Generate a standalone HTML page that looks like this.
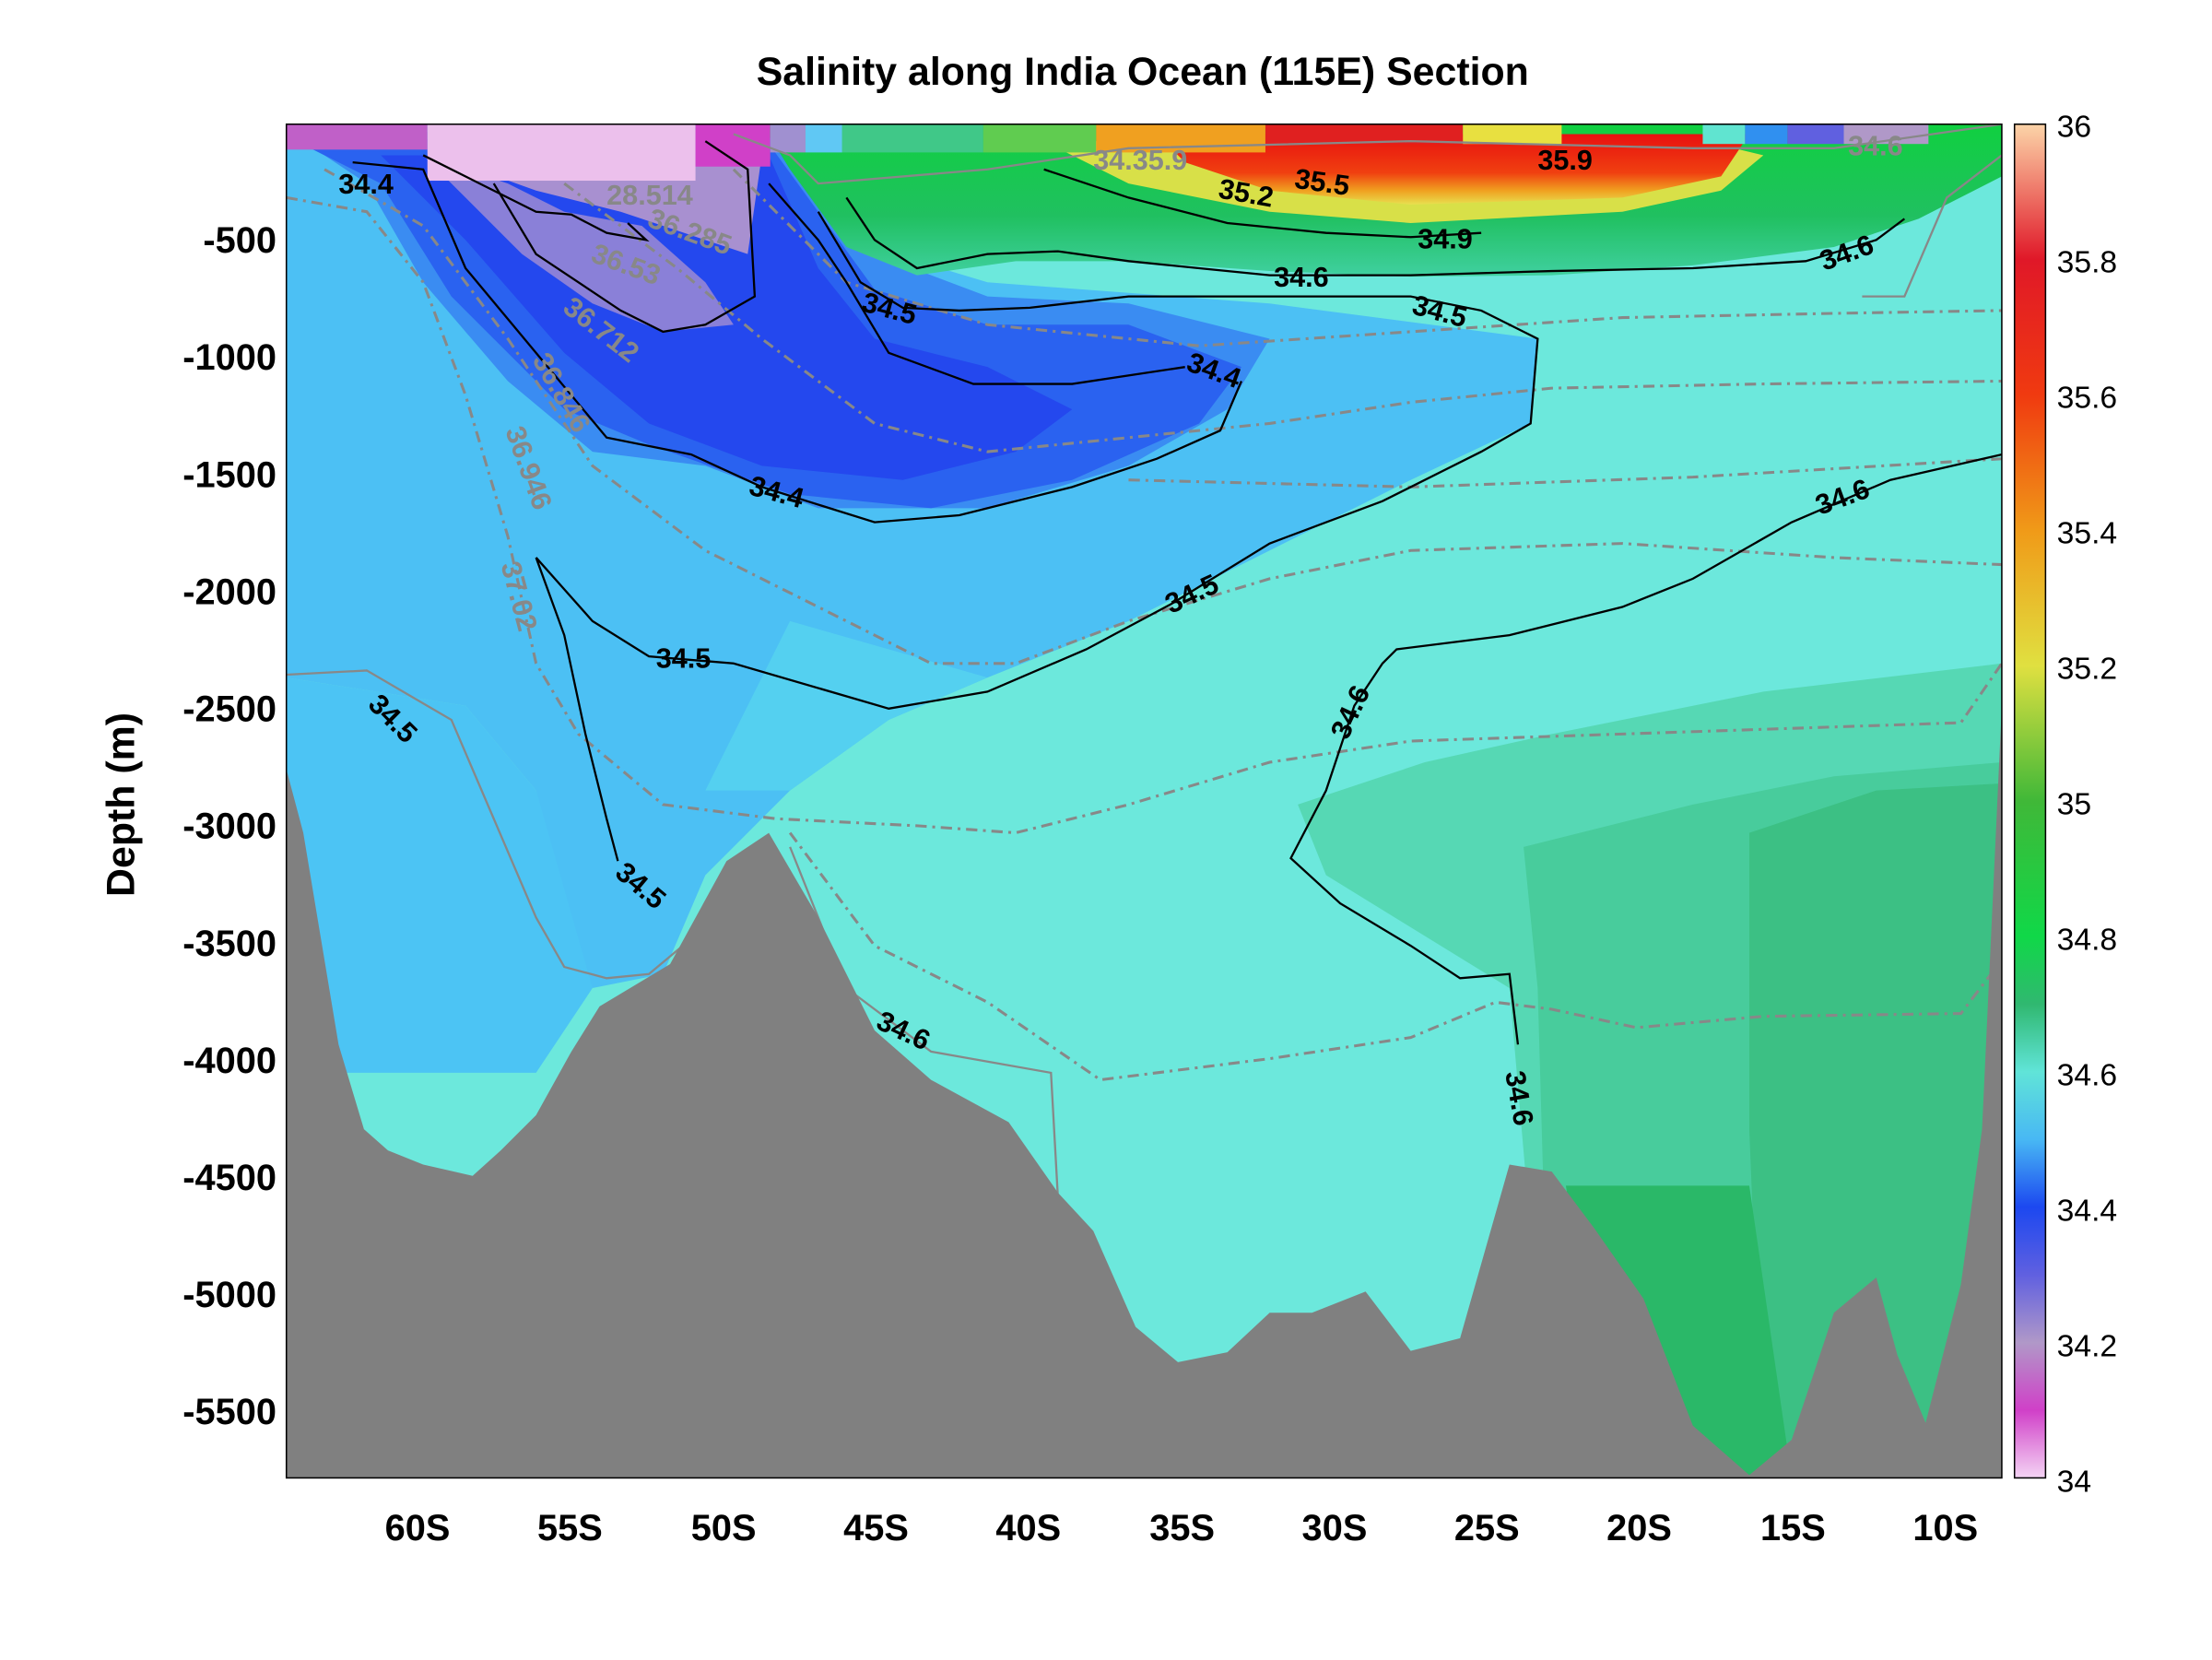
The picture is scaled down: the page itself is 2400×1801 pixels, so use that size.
<!DOCTYPE html>
<html><head><meta charset="utf-8"><style>
html,body{margin:0;padding:0;background:#fff}
svg{display:block}
text{font-family:"Liberation Sans",sans-serif}
</style></head><body>
<svg width="2400" height="1801" viewBox="0 0 1568 1176" preserveAspectRatio="none" xmlns="http://www.w3.org/2000/svg">
<defs>
<linearGradient id="cb" x1="0" y1="0" x2="0" y2="1">
<stop offset="0" stop-color="#fcd4a8"/>
<stop offset="0.1" stop-color="#e01828"/>
<stop offset="0.2" stop-color="#f03a10"/>
<stop offset="0.3" stop-color="#f09a18"/>
<stop offset="0.4" stop-color="#e0e040"/>
<stop offset="0.5" stop-color="#40b838"/>
<stop offset="0.6" stop-color="#10d848"/>
<stop offset="0.65" stop-color="#30b870"/>
<stop offset="0.7" stop-color="#60e4d8"/>
<stop offset="0.75" stop-color="#48b8f4"/>
<stop offset="0.8" stop-color="#1c48f0"/>
<stop offset="0.85" stop-color="#6060e0"/>
<stop offset="0.9" stop-color="#b098c8"/>
<stop offset="0.95" stop-color="#d040c8"/>
<stop offset="1" stop-color="#f4d4f4"/>
</linearGradient>
<linearGradient id="red" x1="0" y1="0" x2="0" y2="1">
<stop offset="0" stop-color="#e81010"/><stop offset="0.55" stop-color="#f04010"/><stop offset="0.8" stop-color="#f0a020"/><stop offset="1" stop-color="#e8e050"/>
</linearGradient>
<linearGradient id="grn" x1="0" y1="0" x2="0" y2="1">
<stop offset="0" stop-color="#10d040"/><stop offset="0.6" stop-color="#20c060"/><stop offset="1" stop-color="#40d0a0"/>
</linearGradient>
<clipPath id="pc"><rect x="203" y="88" width="1216" height="959"/></clipPath>
</defs>
<text x="810" y="60" text-anchor="middle" font-size="28" font-weight="bold" fill="#000">Salinity along India Ocean (115E) Section</text>
<g clip-path="url(#pc)">
<rect x="203" y="88" width="1216" height="959" fill="#6ce8dc"/>
<path d="M203,88 L560,88 L600,170 L700,200 L900,215 L1090,240 L1085,300 L1000,340 L900,390 L800,440 L700,480 L630,510 L560,560 L500,620 L470,690 L420,700 L400,650 L380,560 L330,500 L203,480 Z" fill="#4cc0f4"/>
<path d="M560,440 L700,480 L630,510 L560,560 L500,560 Z" fill="#54d0f0"/>
<path d="M203,480 L330,500 L380,560 L420,700 L380,760 L203,760 Z" fill="#4cc4f4"/>
<path d="M203,95 L230,110 L260,130 L300,200 L360,270 L420,320 L500,330 L580,360 L700,360 L800,330 L870,290 L900,240 L800,215 L700,210 L620,180 L560,110 L540,90 Z" fill="#3a8cf2"/>
<path d="M210,100 L270,130 L320,210 L400,290 L460,315 L560,350 L660,360 L760,340 L850,300 L880,260 L800,230 L700,230 L620,205 L580,150 L540,95 Z" fill="#2a62f0"/>
<path d="M270,110 L330,170 L400,250 L460,300 L540,330 L640,340 L720,320 L760,290 L700,260 L620,240 L580,190 L545,110 Z" fill="#2448ee"/>
<path d="M300,110 L360,130 L400,150 L455,160 L500,200 L520,230 L470,235 L420,215 L370,180 L330,140 Z" fill="#8a80d8"/>
<path d="M310,110 L380,135 L440,150 L500,170 L530,180 L540,110 L520,92 L320,92 Z" fill="#a890d0"/>
<path d="M540,88 L1419,88 L1419,125 L1360,155 L1300,175 L1200,188 L1100,195 L1000,196 L900,192 L800,185 L720,185 L650,195 L600,175 L560,120 Z" fill="url(#grn)"/>
<path d="M740,100 L850,100 L950,105 L1050,100 L1200,98 L1250,110 L1220,135 L1150,150 L1000,158 L900,150 L800,130 Z" fill="#d8e048"/>
<path d="M820,95 L1240,95 L1220,125 L1150,140 L1000,145 L900,135 L840,115 Z" fill="url(#red)"/>
<path d="M920,570 L1010,540 L1100,520 L1250,490 L1419,470 L1419,1047 L1100,1047 L1070,700 L940,620 Z" fill="#56d8b4"/>
<path d="M1080,600 L1200,570 L1300,550 L1419,540 L1419,1047 L1100,1047 L1090,700 Z" fill="#48cc9c"/>
<path d="M1240,590 L1330,560 L1419,555 L1419,1047 L1250,1047 L1240,800 Z" fill="#3cc084"/>
<path d="M1110,840 L1240,840 L1270,1047 L1140,1047 Z" fill="#2ab868"/>
<rect x="203" y="88" width="100" height="18" fill="#c060c8"/>
<rect x="303" y="88" width="190" height="40" fill="#ecc0ec"/>
<rect x="493" y="88" width="53" height="30" fill="#d040c8"/>
<rect x="546" y="88" width="25" height="20" fill="#a090d0"/>
<rect x="571" y="88" width="26" height="20" fill="#60c8f4"/>
<rect x="597" y="88" width="100" height="20" fill="#40c888"/>
<rect x="697" y="88" width="80" height="20" fill="#60cc50"/>
<rect x="777" y="88" width="120" height="20" fill="#f0a020"/>
<rect x="897" y="88" width="140" height="14" fill="#e02020"/>
<rect x="1037" y="88" width="70" height="14" fill="#e8e040"/>
<rect x="1207" y="88" width="30" height="14" fill="#60e4d0"/>
<rect x="1237" y="88" width="30" height="14" fill="#3090f0"/>
<rect x="1267" y="88" width="40" height="14" fill="#6060e0"/>
<rect x="1307" y="88" width="60" height="14" fill="#b098c8"/>
<g fill="none" stroke="#888" stroke-width="2" stroke-dasharray="8,4,2,4">
<path d="M203,140 L260,150 L300,200 L330,280 L360,380 L380,470 L410,520 L470,570 L550,580 L650,585 L720,590 L800,570 L900,540 L1000,525 L1150,520 L1300,515 L1390,512 L1419,470"/>
<path d="M230,120 L300,160 L360,240 L420,330 L500,390 L580,430 L660,470 L720,470 L800,440 L900,410 L1000,390 L1150,385 L1300,395 L1419,400"/>
<path d="M400,130 L480,190 L540,240 L620,300 L700,320 L800,310 L900,300 L1000,285 L1100,275 L1250,272 L1419,270"/>
<path d="M520,120 L600,200 L700,230 L850,245 L1000,235 L1150,225 L1300,222 L1419,220"/>
<path d="M560,590 L620,670 L700,710 L780,765 L900,750 L1000,735 L1060,710 L1100,715 L1160,728 L1250,720 L1390,718 L1419,680"/>
<path d="M800,340 L1000,345 L1200,338 L1419,325"/>
</g>
<g fill="none" stroke="#888" stroke-width="1.5">
<path d="M203,478 L260,475 L320,510 L350,580 L380,650 L400,685 L430,693 L460,690 L520,640"/>
<path d="M520,95 L560,110 L580,130 L700,120 L800,105 L1000,100 L1200,105 L1300,105 L1419,88"/>
<path d="M1419,110 L1380,140 L1350,210 L1320,210"/>
<path d="M560,600 L600,700 L660,745 L745,760 L750,850"/>
</g>
<g fill="none" stroke="#000" stroke-width="1.5">
<path d="M300,110 L340,130 L380,150 L405,152 L430,165 L458,170 L445,158"/>
<path d="M250,115 L300,120 L330,190 L380,250 L430,310 L490,322 L540,345 L620,370 L680,365 L760,345 L820,325 L865,305 L880,270"/>
<path d="M500,100 L530,120 L535,210 L500,230 L470,235 L440,220 L380,180 L350,130"/>
<path d="M545,130 L580,170 L600,200 L630,250 L690,272 L760,272 L840,260"/>
<path d="M380,395 L420,440 L460,465 L520,470 L630,502 L700,490 L770,460 L830,428 L900,385 L980,355 L1050,320 L1085,300 L1090,240 L1050,220 L1000,210 L900,210 L800,210 L730,218 L680,220 L640,218 L610,200 L580,150"/>
<path d="M380,395 L400,450 L415,520 L430,580 L438,610"/>
<path d="M600,140 L620,170 L650,190 L700,180 L750,178 L800,185 L850,190 L900,195 L1000,195 L1100,192 L1200,190 L1280,185 L1330,170 L1350,155"/>
<path d="M740,120 L800,140 L870,158 L940,165 L1000,168 L1050,165"/>
<path d="M1419,322 L1340,340 L1270,370 L1200,410 L1150,430 L1070,450 L990,460 L980,470 L960,500 L940,560 L915,608 L950,640 L1000,670 L1035,693 L1070,690 L1076,740"/>
</g>
<path d="M203,545 L215,590 L240,740 L258,800 L275,815 L300,825 L335,833 L355,815 L380,790 L405,745 L425,713 L475,683 L515,610 L545,590 L580,650 L620,730 L660,765 L715,795 L750,845 L775,872 L805,940 L835,965 L870,958 L900,930 L930,930 L968,915 L1000,957 L1035,948 L1070,825 L1100,830 L1130,870 L1165,920 L1200,1010 L1240,1045 L1270,1020 L1300,930 L1330,905 L1345,960 L1365,1008 L1390,910 L1405,800 L1419,500 L1419,1047 L203,1047 Z" fill="#808080"/>
<g font-size="20" font-weight="bold" fill="#000">
<text x="240" y="137">34.4</text>
<text x="610" y="220" transform="rotate(15 610 220)">34.5</text>
<text x="840" y="262" transform="rotate(20 840 262)">34.4</text>
<text x="530" y="350" transform="rotate(15 530 350)">34.4</text>
<text x="1000" y="222" transform="rotate(15 1000 222)">34.5</text>
<text x="903" y="203">34.6</text>
<text x="1005" y="176">34.9</text>
<text x="863" y="140" transform="rotate(10 863 140)">35.2</text>
<text x="917" y="133" transform="rotate(8 917 133)">35.5</text>
<text x="1090" y="120">35.9</text>
<text x="1293" y="192" transform="rotate(-20 1293 192)">34.6</text>
<text x="1290" y="365" transform="rotate(-20 1290 365)">34.6</text>
<text x="830" y="435" transform="rotate(-25 830 435)">34.5</text>
<text x="465" y="473">34.5</text>
<text x="260" y="500" transform="rotate(45 260 500)">34.5</text>
<text x="435" y="620" transform="rotate(40 435 620)">34.5</text>
<text x="955" y="525" transform="rotate(-65 955 525)">34.6</text>
<text x="1067" y="760" transform="rotate(80 1067 760)">34.6</text>
<text x="620" y="728" transform="rotate(25 620 728)">34.6</text>
</g>
<g font-size="20" font-weight="bold" fill="#888">
<text x="418" y="185" transform="rotate(20 418 185)">36.53</text>
<text x="398" y="220" transform="rotate(38 398 220)">36.712</text>
<text x="377" y="255" transform="rotate(60 377 255)">36.846</text>
<text x="358" y="305" transform="rotate(70 358 305)">36.946</text>
<text x="355" y="400" transform="rotate(75 355 400)">37.02</text>
<text x="458" y="160" transform="rotate(20 458 160)">36.285</text>
<text x="430" y="145">28.514</text>
<text x="775" y="120">34.35.9</text>
<text x="1310" y="110">34.6</text>
</g>
</g>
<rect x="203" y="88" width="1216" height="959" fill="none" stroke="#000" stroke-width="1"/>
<g font-size="26" font-weight="bold" fill="#000" text-anchor="end">
<text x="196" y="179">-500</text>
<text x="196" y="262">-1000</text>
<text x="196" y="345">-1500</text>
<text x="196" y="428">-2000</text>
<text x="196" y="511">-2500</text>
<text x="196" y="594">-3000</text>
<text x="196" y="677">-3500</text>
<text x="196" y="760">-4000</text>
<text x="196" y="843">-4500</text>
<text x="196" y="926">-5000</text>
<text x="196" y="1009">-5500</text>
</g>
<g font-size="26" font-weight="bold" fill="#000" text-anchor="middle">
<text x="296" y="1091">60S</text><text x="404" y="1091">55S</text><text x="513" y="1091">50S</text>
<text x="621" y="1091">45S</text><text x="729" y="1091">40S</text><text x="838" y="1091">35S</text>
<text x="946" y="1091">30S</text><text x="1054" y="1091">25S</text><text x="1162" y="1091">20S</text>
<text x="1271" y="1091">15S</text><text x="1379" y="1091">10S</text>
</g>
<text x="95" y="570" font-size="28" font-weight="bold" text-anchor="middle" transform="rotate(-90 95 570)">Depth (m)</text>
<rect x="1428" y="88" width="22" height="959" fill="url(#cb)" stroke="#000" stroke-width="1"/>
<g font-size="22" fill="#000">
<text x="1458" y="97">36</text><text x="1458" y="193">35.8</text><text x="1458" y="289">35.6</text>
<text x="1458" y="385">35.4</text><text x="1458" y="481">35.2</text><text x="1458" y="577">35</text>
<text x="1458" y="673">34.8</text><text x="1458" y="769">34.6</text><text x="1458" y="865">34.4</text>
<text x="1458" y="961">34.2</text><text x="1458" y="1057">34</text>
</g>
</svg>
</body></html>
